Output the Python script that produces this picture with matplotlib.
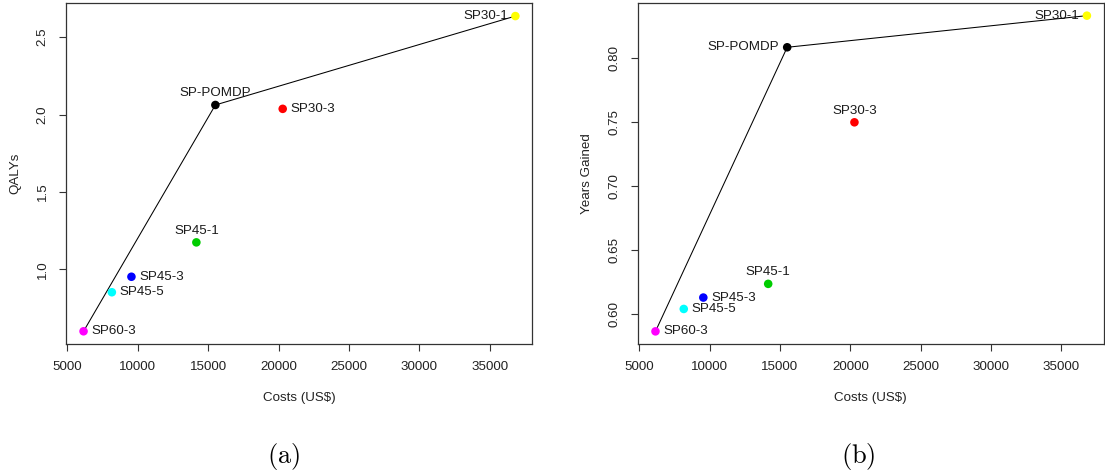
import matplotlib
matplotlib.use("Agg")
import matplotlib.pyplot as plt

plt.rcParams['font.family'] = ['Liberation Sans', 'DejaVu Sans']
plt.rcParams['mathtext.fontset'] = 'cm'

names = ["SP60-3", "SP45-5", "SP45-3", "SP45-1", "SP-POMDP", "SP30-3", "SP30-1"]
costs = [6150, 8160, 9550, 14160, 15510, 20290, 36810]
qalys = [0.601, 0.853, 0.953, 1.175, 2.062, 2.037, 2.636]
years = [0.5867, 0.6042, 0.6131, 0.6238, 0.8086, 0.7500, 0.8333]
colors = ["#FF00FF", "#00FFFF", "#0000FF", "#00CD00", "#000000", "#FF0000", "#FFFF00"]
frontier = ["SP60-3", "SP-POMDP", "SP30-1"]

pos_a = ["right", "right", "right", "above", "above", "right", "left"]
pos_b = ["right", "right", "right", "above", "left", "above", "left"]

x_ticks = [5000, 10000, 15000, 20000, 25000, 30000, 35000]
ya_ticks = [1.0, 1.5, 2.0, 2.5]
yb_ticks = [0.60, 0.65, 0.70, 0.75, 0.80]

fig = plt.figure(figsize=(11.05, 4.72), dpi=100)
axa = fig.add_axes([0.0595, 0.2722, 0.4222, 0.722])
axb = fig.add_axes([0.5771, 0.2722, 0.4218, 0.722])

edge = "#333333"
fs = 9.6


def draw(ax, yvals, positions, yticks, yfmt, ylim, ylabel):
    for nm, x, y, c, p in zip(names, costs, yvals, colors, positions):
        if p == "right":
            off, ha, va = (5.5, 0), "left", "center"
        elif p == "left":
            off, ha, va = (-5.5, 0), "right", "center"
        else:
            off, ha, va = (0, 4), "center", "bottom"
        ax.annotate(nm, (x, y), xytext=off, textcoords="offset points",
                    ha=ha, va=va, fontsize=fs, color="#1a1a1a", zorder=2)
    fx = [costs[names.index(n)] for n in frontier]
    fy = [yvals[names.index(n)] for n in frontier]
    ax.plot(fx, fy, color="black", lw=0.75, zorder=3)
    ax.scatter(costs, yvals, c=colors, s=38, edgecolors="none", zorder=4)
    ax.set_xlim(4886, 38010)
    ax.set_ylim(*ylim)
    ax.set_xticks(x_ticks)
    ax.set_xticklabels([str(t) for t in x_ticks])
    ax.set_yticks(yticks)
    ax.set_yticklabels([yfmt.format(t) for t in yticks], rotation=90, va="center")
    ax.tick_params(axis="both", length=5.3, width=0.8, color=edge,
                   labelsize=fs, labelcolor="#222222", pad=7)
    for s in ax.spines.values():
        s.set_color(edge)
        s.set_linewidth(0.9)
    ax.set_xlabel("Costs (US$)", fontsize=fs, color="#222222", labelpad=14)
    ax.set_ylabel(ylabel, fontsize=fs, color="#222222", labelpad=11)


draw(axa, qalys, pos_a, ya_ticks, "{:.1f}", (0.522, 2.722), "QALYs")
draw(axb, years, pos_b, yb_ticks, "{:.2f}", (0.5772, 0.8434), "Years Gained")

fig.text(0.2565, 0.032, r"$\mathrm{(a)}$", ha="center", va="center", fontsize=19)
fig.text(0.7765, 0.032, r"$\mathrm{(b)}$", ha="center", va="center", fontsize=19)

fig.savefig("out.png", dpi=100)
